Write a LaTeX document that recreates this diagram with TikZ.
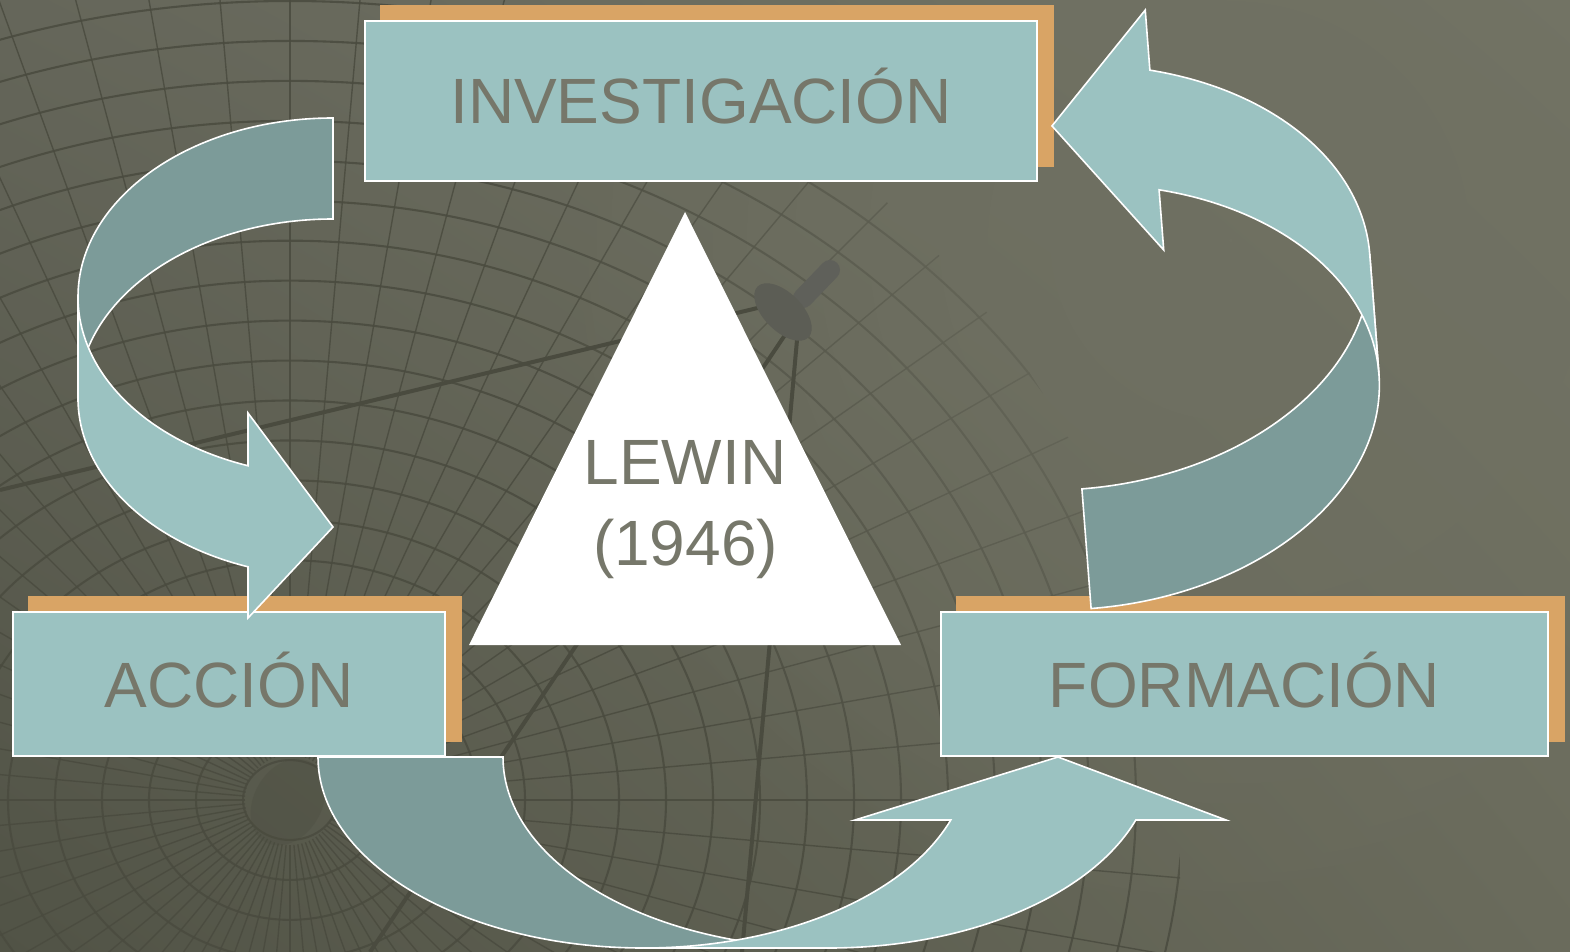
\documentclass[tikz,border=0pt]{standalone}
\usepackage{fontspec}
\setmainfont{Liberation Sans}
\usetikzlibrary{fadings,shadings}
\definecolor{bgUL}{HTML}{65665A}
\definecolor{bgUR}{HTML}{757666}
\definecolor{bgLL}{HTML}{515346}
\definecolor{bgLR}{HTML}{6A6B5C}
\definecolor{bgMid}{HTML}{6F7062}
\definecolor{gridc}{HTML}{4A4B3F}
\definecolor{feedA}{HTML}{5F605A}
\definecolor{feedB}{HTML}{5C5D55}
\definecolor{boxc}{HTML}{9BC2C1}
\definecolor{darkc}{HTML}{7C9B99}
\definecolor{shadc}{HTML}{D9A465}
\definecolor{txtc}{HTML}{76776A}
\pgfdeclarelayer{back}
\pgfdeclarelayer{shad}
\pgfsetlayers{back,shad,main}
\tikzfading[name=softfade, inner color=transparent!0, outer color=transparent!100]
\begin{document}
\begin{tikzpicture}[x=1pt,y=-1pt,
  box/.style={fill=boxc, draw=white, line width=1.8pt, text=txtc,
    font=\fontsize{64}{77}\selectfont, text height=46pt, text depth=0pt, inner sep=0pt},
  lightband/.style={fill=boxc, draw=white, line width=1.6pt},
  darkband/.style={fill=darkc, draw=white, line width=1.6pt},
  gridl/.style={draw=gridc, line width=2.1pt, opacity=0.85},
  strut/.style={draw=gridc, line width=4pt},
  bigtext/.style={text=txtc, font=\fontsize{64}{77}\selectfont, inner sep=0pt, anchor=base}]

\useasboundingbox (0,0) rectangle (1570,952);

% ---------- background ----------
\begin{pgfonlayer}{back}
\shade[upper left=bgUL, upper right=bgUR, lower left=bgLL, lower right=bgLR]
  (0,0) rectangle (1570,952);
\begin{scope}
  \clip (250,880) circle[radius=930];
  \foreach \r in {47,94,...,1410}
    \draw[gridl] (290,800) ellipse[x radius=\r, y radius=0.85*\r];
  \foreach \a in {0,5,...,355}
    \draw[gridl, line width=1.4pt] (290,800) ++(\a:45) -- ++(\a:1460);
\end{scope}
\fill[bgMid, path fading=softfade] (1230,240) circle[radius=720];
\fill[gridc, opacity=0.3, rotate around={60:(288,802)}] (288,802) ellipse[x radius=46, y radius=34];
\draw[strut] (0,490) -- (770,305);
\draw[strut] (797,340) -- (742,952);
\draw[strut] (785,335) -- (370,952);
\draw[feedA, line width=20pt, line cap=round] (803,298) -- (830,270);
\fill[feedB, rotate around={-45:(783,312)}] (783,312) ellipse[x radius=36, y radius=19];
\end{pgfonlayer}

% ---------- boxes ----------
\node[box, minimum width=672pt, minimum height=160pt] (inv) at (701,101) {INVESTIGACIÓN};
\node[box, minimum width=432pt, minimum height=144pt] (acc) at (229,684) {ACCIÓN};
\node[box, minimum width=607pt, minimum height=144pt] (form) at (1244.5,684) {FORMACIÓN};
\begin{pgfonlayer}{shad}
  \foreach \n in {inv,acc,form}
    \fill[shadc] ([shift={(16,-15)}]\n.south west) rectangle ([shift={(16,-15)}]\n.north east);
\end{pgfonlayer}

% ---------- central triangle ----------
\fill[white] (685,212) -- (901,645) -- (469,645) -- cycle;
\node[bigtext] (lewin) at (685,484) {LEWIN};
\node[bigtext] (year) at (685.5,565) {(1946)};

% ---------- left arrow: INVESTIGACION -> ACCION ----------
\filldraw[darkband] (333,118) arc[start angle=270, end angle=180, x radius=255, y radius=179]
  -- (78,398) arc[start angle=180, end angle=270, x radius=255, y radius=179] -- cycle;
\filldraw[lightband] (78,297) arc[start angle=180, end angle=109.47, x radius=255, y radius=179]
  -- (248,413) -- (333,527) -- (248,618) -- (248,566.8)
  arc[start angle=109.47, end angle=180, x radius=255, y radius=179] -- cycle;

% ---------- bottom arrow: ACCION -> FORMACION ----------
\filldraw[darkband] (318,757) arc[start angle=180, end angle=90, x radius=325.5, y radius=191]
  -- (828.5,948) arc[start angle=90, end angle=180, x radius=325.5, y radius=191] -- cycle;
\filldraw[lightband] (643.5,948) arc[start angle=90, end angle=19.26, x radius=325.5, y radius=191]
  -- (855,820) -- (1058,757) -- (1226,820) -- (1135.8,820)
  arc[start angle=19.26, end angle=90, x radius=325.5, y radius=191] -- cycle;

% ---------- right arrow: FORMACION -> INVESTIGACION ----------
\begin{scope}[rotate around={4.4:(1230,310)}]
\filldraw[darkband] (1068.6,597) arc[start angle=90, end angle=0, x radius=305, y radius=212]
  -- (1373.6,265) arc[start angle=0, end angle=90, x radius=305, y radius=212] -- cycle;
\filldraw[lightband] (1373.6,385) arc[start angle=0, end angle=-70.88, x radius=305, y radius=212]
  -- (1168.5,245.1) -- (1066.6,112.8) -- (1168.5,4.4) -- (1168.5,64.7)
  arc[start angle=-70.88, end angle=0, x radius=305, y radius=212] -- cycle;
\end{scope}
\end{tikzpicture}
\end{document}
